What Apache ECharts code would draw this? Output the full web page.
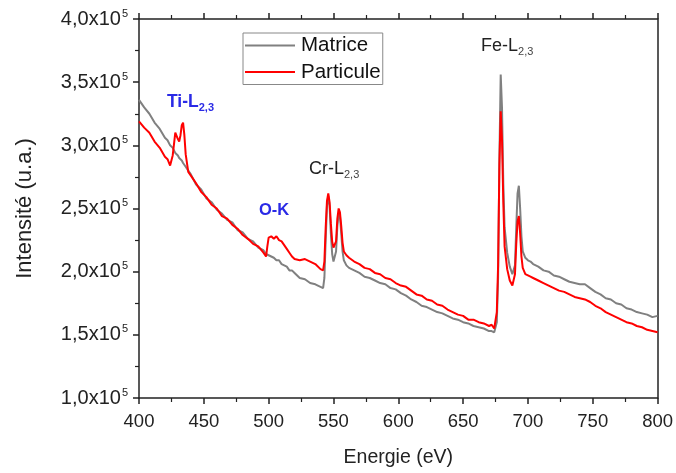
<!DOCTYPE html>
<html>
<head>
<meta charset="utf-8">
<script src="https://cdn.jsdelivr.net/npm/echarts@6/dist/echarts.min.js"></script>
<style>html,body{margin:0;padding:0;background:#fff}#c{width:676px;height:473px}</style>
</head>
<body>
<div id="c"></div>
<script>
// Energy axis (eV)
var energy = [
  400,404,408,412,416,420,422,424,426,428,
  429,430,431,432,433,434,435,436,438,440,
  444,448,452,456,460,464,468,472,476,480,
  484,488,492,496,498,499,500,502,504,506,
  508,510,512,514,516,518,520,524,528,532,
  536,540,542,543,544,545,546,547,548,549,
  550,551,552,553,554,555,556,557,558,560,
  562,566,570,574,578,582,586,590,594,598,
  602,606,610,614,618,622,626,630,634,638,
  642,646,650,654,658,662,666,670,672,674,
  675,676,677,678,679,680,681,682,684,686,
  688,689,690,691,692,693,694,695,696,698,
  700,702,704,708,712,716,720,724,728,732,
  736,740,744,748,752,756,760,764,768,772,
  776,780,784,788,792,796,800
];
// Intensity, in units of 10^5
var matrice = [
  3.36,3.30,3.25,3.18,3.13,3.06,3.04,3.00,2.98,2.94,
  2.94,2.92,2.90,2.89,2.88,2.86,2.85,2.83,2.80,2.77,
  2.69,2.65,2.58,2.55,2.49,2.46,2.41,2.39,2.33,2.31,
  2.26,2.24,2.19,2.17,2.14,2.14,2.13,2.12,2.11,2.09,
  2.09,2.06,2.05,2.04,2.01,2.01,1.99,1.95,1.94,1.91,
  1.90,1.88,1.87,1.95,2.25,2.52,2.60,2.52,2.30,2.14,
  2.08,2.08,2.16,2.36,2.46,2.44,2.30,2.16,2.09,2.05,
  2.03,2.01,1.99,1.96,1.95,1.93,1.91,1.90,1.87,1.86,
  1.83,1.81,1.78,1.76,1.73,1.72,1.70,1.68,1.67,1.65,
  1.63,1.62,1.60,1.59,1.57,1.56,1.55,1.53,1.53,1.52,
  1.51,1.60,1.95,2.90,3.56,3.30,2.70,2.35,2.15,2.04,
  1.98,1.98,2.05,2.35,2.62,2.68,2.50,2.28,2.16,2.11,
  2.09,2.08,2.06,2.04,2.01,2.00,1.97,1.96,1.94,1.92,
  1.91,1.90,1.90,1.87,1.84,1.82,1.79,1.78,1.75,1.74,
  1.71,1.70,1.68,1.67,1.66,1.64,1.65
];
var particule = [
  3.19,3.14,3.10,3.03,2.98,2.91,2.89,2.84,2.92,3.10,
  3.09,3.05,3.03,3.08,3.16,3.18,3.08,2.93,2.79,2.76,
  2.70,2.63,2.59,2.53,2.50,2.44,2.42,2.37,2.34,2.29,
  2.26,2.22,2.20,2.15,2.12,2.20,2.27,2.28,2.26,2.28,
  2.25,2.24,2.21,2.18,2.15,2.12,2.10,2.09,2.10,2.08,
  2.06,2.02,2.01,2.08,2.35,2.56,2.62,2.55,2.38,2.24,
  2.19,2.18,2.24,2.42,2.50,2.47,2.36,2.23,2.16,2.13,
  2.11,2.08,2.06,2.03,2.02,1.99,1.98,1.95,1.94,1.91,
  1.89,1.88,1.85,1.82,1.81,1.78,1.77,1.74,1.73,1.70,
  1.68,1.66,1.65,1.62,1.62,1.60,1.59,1.57,1.58,1.55,
  1.56,1.68,2.05,2.85,3.27,3.05,2.55,2.20,2.02,1.93,
  1.89,1.90,1.98,2.22,2.40,2.44,2.30,2.12,2.03,1.98,
  1.97,1.96,1.95,1.93,1.91,1.89,1.87,1.85,1.84,1.82,
  1.80,1.79,1.78,1.76,1.73,1.71,1.68,1.66,1.64,1.62,
  1.60,1.59,1.57,1.56,1.54,1.53,1.52
];
var seriesNames = ['Matrice', 'Particule'];
var xTicks = {min: 400, max: 800, interval: 50};
var yTicks = {min: 1, max: 4, interval: 0.5};

function pairs(xs, ys) { return xs.map(function (x, i) { return [x, ys[i]]; }); }

var FONT = '"Liberation Sans", Arial, sans-serif';
var chart = echarts.init(document.getElementById('c'), null, {renderer: 'canvas'});
var axisLineStyle = {color: '#222', width: 1.5};

chart.setOption({
  animation: false,
  backgroundColor: '#fff',
  grid: {left: 139, right: 17, top: 19, bottom: 73},
  legend: {
    orient: 'vertical', left: 243, top: 33,
    data: seriesNames,
    icon: 'rect',
    itemWidth: 50, itemHeight: 2, itemGap: 3.5,
    padding: [1, 2, 1, 2],
    borderColor: '#888', borderWidth: 1,
    textStyle: {fontFamily: FONT, fontSize: 20.5, lineHeight: 23, color: '#111', padding: [0, 0, 0, 1]}
  },
  xAxis: [{
    type: 'value', min: xTicks.min, max: xTicks.max, interval: xTicks.interval,
    name: 'Energie (eV)', nameLocation: 'middle', nameGap: 50,
    nameTextStyle: {fontFamily: FONT, fontSize: 19.5, color: '#222'},
    axisLine: {show: true, lineStyle: axisLineStyle},
    axisTick: {show: true, inside: false, length: 6, lineStyle: axisLineStyle},
    minorTick: {show: true, splitNumber: 2, length: 4, lineStyle: {color: '#222', width: 1.2}},
    axisLabel: {fontFamily: FONT, fontSize: 18.5, color: '#222', margin: 14},
    splitLine: {show: false}
  }, {
    type: 'value', position: 'top', min: xTicks.min, max: xTicks.max, interval: xTicks.interval,
    axisLine: {show: true, lineStyle: axisLineStyle},
    axisTick: {show: true, inside: false, length: 6, lineStyle: axisLineStyle},
    minorTick: {show: true, splitNumber: 2, length: 4, lineStyle: {color: '#222', width: 1.2}},
    axisLabel: {show: false}, splitLine: {show: false}
  }],
  yAxis: [{
    type: 'value', min: yTicks.min, max: yTicks.max, interval: yTicks.interval,
    name: 'Intensité (u.a.)', nameLocation: 'middle', nameGap: 103, nameRotate: 90,
    nameTextStyle: {fontFamily: FONT, fontSize: 22, color: '#222'},
    axisLine: {show: true, lineStyle: axisLineStyle},
    axisTick: {show: true, inside: false, length: 6, lineStyle: axisLineStyle},
    minorTick: {show: true, splitNumber: 2, length: 4, lineStyle: {color: '#222', width: 1.2}},
    axisLabel: {
      margin: 11,
      formatter: function (v) { return '{a|' + v.toFixed(1).replace('.', ',') + 'x10}{s|5}'; },
      rich: {
        a: {fontFamily: FONT, fontSize: 20, color: '#222'},
        s: {fontFamily: FONT, fontSize: 11, color: '#222', padding: [0, 0, 11, 1]}
      }
    },
    splitLine: {show: false}
  }, {
    type: 'value', position: 'right', min: yTicks.min, max: yTicks.max, interval: yTicks.interval,
    axisLine: {show: true, lineStyle: axisLineStyle},
    axisTick: {show: false}, axisLabel: {show: false}, splitLine: {show: false}
  }],
  series: [{
    name: seriesNames[0], type: 'line', data: pairs(energy, matrice),
    showSymbol: false, symbol: 'none', lineStyle: {color: '#808080', width: 2}, itemStyle: {color: '#808080'}, z: 2
  }, {
    name: seriesNames[1], type: 'line', data: pairs(energy, particule),
    showSymbol: false, symbol: 'none', lineStyle: {color: '#ff0000', width: 2}, itemStyle: {color: '#ff0000'}, z: 3
  }],
  graphic: [
    {type: 'text', left: 167, top: 93, style: {
      text: '{m|Ti-L}{s|2,3}', rich: {
        m: {fontFamily: FONT, fontSize: 17.5, fontWeight: 'bold', fill: '#2a2ae6'},
        s: {fontFamily: FONT, fontSize: 11, fontWeight: 'bold', fill: '#2a2ae6', padding: [12, 0, 0, 0]}
      }}},
    {type: 'text', left: 259, top: 202, style: {
      text: 'O-K', fontFamily: FONT, fontSize: 16.5, fontWeight: 'bold', fill: '#2a2ae6'}},
    {type: 'text', left: 309, top: 160, style: {
      text: '{m|Cr-L}{s|2,3}', rich: {
        m: {fontFamily: FONT, fontSize: 18, fill: '#222'},
        s: {fontFamily: FONT, fontSize: 11, fill: '#444', padding: [12, 0, 0, 0]}
      }}},
    {type: 'text', left: 481, top: 37, style: {
      text: '{m|Fe-L}{s|2,3}', rich: {
        m: {fontFamily: FONT, fontSize: 18, fill: '#222'},
        s: {fontFamily: FONT, fontSize: 11, fill: '#444', padding: [12, 0, 0, 0]}
      }}}
  ]
});
</script>
</body>
</html>
